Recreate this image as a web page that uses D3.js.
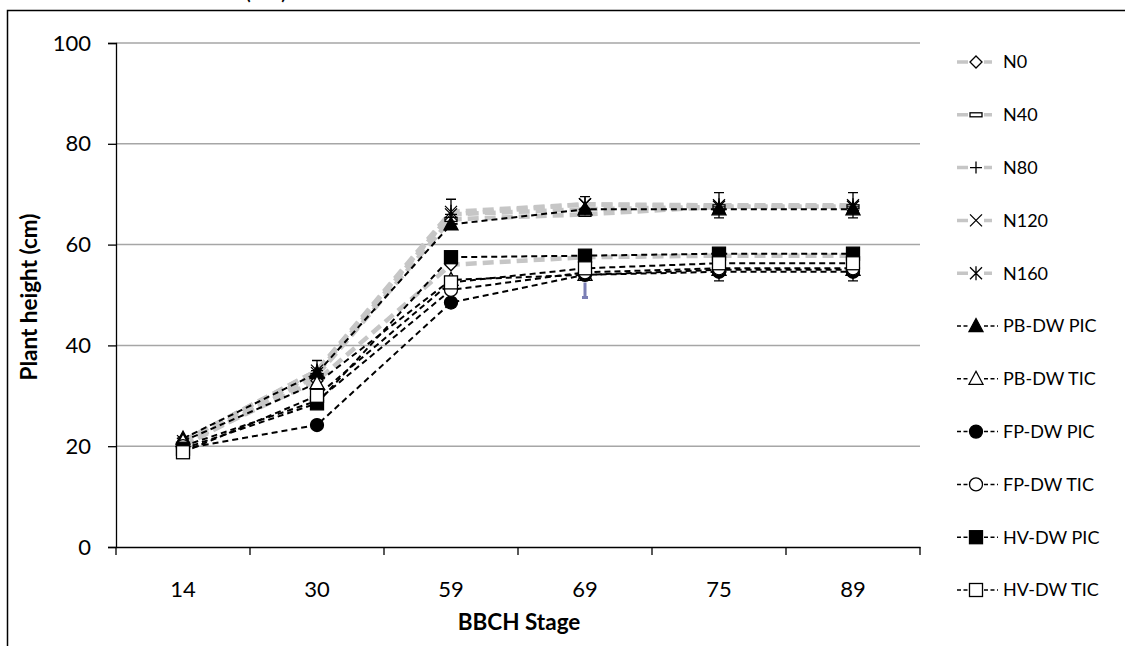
<!DOCTYPE html>
<html>
<head>
<meta charset="utf-8">
<script src="https://cdn.jsdelivr.net/npm/d3@7"></script>
<style>
  body { margin: 0; background: #fff; }
  svg text { font-family: Lato, "Open Sans", sans-serif; fill: #000; }
</style>
</head>
<body>
<div id="chart"></div>
<script>
// BBCH stages on the x axis
var stages = ["14", "30", "59", "69", "75", "89"];
var yTicks = [0, 20, 40, 60, 80, 100];

// plant height (cm) per series
var n0   = [20.5, 33.0, 56.0, 57.5, 57.8, 57.8];
var n40  = [20.0, 34.0, 65.0, 66.0, 67.5, 67.5];
var n80  = [21.0, 35.0, 66.0, 67.0, 67.5, 67.5];
var n120 = [20.5, 34.5, 66.0, 68.0, 67.5, 67.5];
var n160 = [21.0, 35.0, 66.5, 68.0, 67.8, 67.8];
var pbPic = [21.5, 34.5, 64.0, 67.0, 67.0, 67.0];
var pbTic = [21.0, 32.5, 53.0, 54.0, 55.0, 55.0];
var fpPic = [19.5, 24.2, 48.5, 54.0, 54.6, 54.6];
var fpTic = [20.0, 29.0, 51.0, 54.5, 55.3, 55.3];
var hvPic = [19.5, 28.5, 57.5, 57.8, 58.2, 58.2];
var hvTic = [18.8, 30.0, 52.5, 55.3, 56.3, 56.3];

// error bars (+/-)
var n160Err = [0.8, 2.0, 2.5, 1.5, 2.5, 2.5];
var fpTicErr = [0.5, 1.5, 2.0, 1.0, 2.5, 2.5];
var blueBar = ["69", 52.5, 49.5];

var series = [
  {name: "N0", values: n0, marker: "diamond", kind: "n"},
  {name: "N40", values: n40, marker: "bar", kind: "n"},
  {name: "N80", values: n80, marker: "plus", kind: "n"},
  {name: "N120", values: n120, marker: "x", kind: "n"},
  {name: "N160", values: n160, marker: "star", kind: "n"},
  {name: "PB-DW PIC", values: pbPic, marker: "tri", kind: "dw"},
  {name: "PB-DW TIC", values: pbTic, marker: "triOpen", kind: "dw"},
  {name: "FP-DW PIC", values: fpPic, marker: "circle", kind: "dw"},
  {name: "FP-DW TIC", values: fpTic, marker: "circleOpen", kind: "dw"},
  {name: "HV-DW PIC", values: hvPic, marker: "square", kind: "dw"},
  {name: "HV-DW TIC", values: hvTic, marker: "squareOpen", kind: "dw"}
];

var width = 1125, height = 646;

var svg = d3.select("#chart").append("svg")
  .attr("width", width)
  .attr("height", height);

// outer frame (only top and left are in the picture)
svg.append("path")
  .attr("d", "M7.5,646 L7.5,10.5 L1125,10.5")
  .attr("fill", "none")
  .attr("stroke", "#000")
  .attr("stroke-width", 1.5);

// title, mostly cut off by the top edge
svg.append("text")
  .attr("x", 266).attr("y", -1)
  .attr("text-anchor", "middle")
  .style("font-size", "24px")
  .text("(cm)");

var x = d3.scaleBand().domain(stages).range([116, 920]);
var y = d3.scaleLinear().domain([0, 100]).range([547, 43]);
var cx = function(s) { return x(s) + x.bandwidth() / 2; };

// grid
svg.append("g").selectAll("line")
  .data(yTicks.filter(function(d) { return d > 0; }))
  .enter().append("line")
  .attr("x1", 116).attr("x2", 920)
  .attr("y1", function(d) { return y(d); })
  .attr("y2", function(d) { return y(d); })
  .attr("stroke", "#a6a6a6")
  .attr("stroke-width", 1.5);

// y axis
var yAxis = svg.append("g")
  .attr("transform", "translate(116,0)")
  .call(d3.axisLeft(y).tickValues(yTicks).tickSize(8).tickPadding(17));
yAxis.selectAll("text").style("font-size", "22px");
yAxis.select(".domain").attr("stroke-width", 1.3);
yAxis.selectAll(".tick line").attr("stroke-width", 1.3);

// x axis
var xAxis = svg.append("g")
  .attr("transform", "translate(0,547)")
  .call(d3.axisBottom(x).tickSize(0).tickPadding(34));
xAxis.selectAll("text").style("font-size", "22px");
xAxis.select(".domain").attr("stroke-width", 1.3);
xAxis.append("g").selectAll("line")
  .data(d3.range(stages.length + 1))
  .enter().append("line")
  .attr("x1", function(i) { return 116 + i * x.step(); })
  .attr("x2", function(i) { return 116 + i * x.step(); })
  .attr("y1", 0).attr("y2", 8)
  .attr("stroke", "#000").attr("stroke-width", 1.3);

// axis titles
svg.append("text")
  .attr("x", 519).attr("y", 630)
  .attr("text-anchor", "middle")
  .style("font-size", "22.5px").style("font-weight", "bold")
  .text("BBCH Stage");
svg.append("text")
  .attr("transform", "translate(37,297) rotate(-90)")
  .attr("text-anchor", "middle")
  .style("font-size", "22.5px").style("font-weight", "bold")
  .text("Plant height (cm)");

function lineStyle(sel, kind) {
  if (kind === "n") {
    sel.attr("stroke", "#c6c6c6").attr("stroke-width", 4.5).attr("stroke-dasharray", "11,6");
  } else {
    sel.attr("stroke", "#000").attr("stroke-width", 2).attr("stroke-dasharray", "6,4");
  }
}

function marker(g, type, px, py) {
  var m = g.append("g").attr("transform", "translate(" + px + "," + py + ")");
  var s = 6.5;
  if (type === "diamond") {
    m.append("path").attr("d", "M0,-6 L6,0 L0,6 L-6,0Z")
      .attr("fill", "#fff").attr("stroke", "#000").attr("stroke-width", 1.3);
  } else if (type === "bar") {
    m.append("rect").attr("x", -6).attr("y", -2).attr("width", 12).attr("height", 4)
      .attr("fill", "#fff").attr("stroke", "#000").attr("stroke-width", 1.3);
  } else if (type === "plus") {
    m.append("path").attr("d", "M-6,0H6M0,-6V6")
      .attr("stroke", "#000").attr("stroke-width", 1.3);
  } else if (type === "x") {
    m.append("path").attr("d", "M-6,-6L6,6M-6,6L6,-6")
      .attr("stroke", "#000").attr("stroke-width", 1.3);
  } else if (type === "star") {
    m.append("path").attr("d", "M-6,-6L6,6M-6,6L6,-6M0,-7V7")
      .attr("stroke", "#000").attr("stroke-width", 1.3);
  } else if (type === "tri" || type === "triOpen") {
    m.append("path").attr("d", "M0,-7.5 L7,5.5 L-7,5.5Z")
      .attr("fill", type === "tri" ? "#000" : "#fff")
      .attr("stroke", "#000").attr("stroke-width", 1.3);
  } else if (type === "circle" || type === "circleOpen") {
    m.append("circle").attr("r", s)
      .attr("fill", type === "circle" ? "#000" : "#fff")
      .attr("stroke", "#000").attr("stroke-width", 1.3);
  } else {
    m.append("rect").attr("x", -s).attr("y", -s).attr("width", 2 * s).attr("height", 2 * s)
      .attr("fill", type === "square" ? "#000" : "#fff")
      .attr("stroke", "#000").attr("stroke-width", 1.3);
  }
}

var line = d3.line()
  .x(function(d, i) { return cx(stages[i]); })
  .y(function(d) { return y(d); });

var plot = svg.append("g");

// error bars
function errorBars(vals, errs) {
  vals.forEach(function(v, i) {
    var px = cx(stages[i]);
    plot.append("path")
      .attr("d", "M" + px + "," + y(v - errs[i]) + "V" + y(v + errs[i]) +
        "M" + (px - 5) + "," + y(v - errs[i]) + "H" + (px + 5) +
        "M" + (px - 5) + "," + y(v + errs[i]) + "H" + (px + 5))
      .attr("stroke", "#000").attr("stroke-width", 1.3).attr("fill", "none");
  });
}
errorBars(n160, n160Err);
errorBars(fpTic, fpTicErr);

series.forEach(function(s) {
  plot.append("path")
    .attr("d", line(s.values))
    .attr("fill", "none")
    .call(lineStyle, s.kind);
});
series.forEach(function(s) {
  s.values.forEach(function(v, i) { marker(plot, s.marker, cx(stages[i]), y(v)); });
});

// odd blue error bar at stage 69
plot.append("path")
  .attr("d", "M" + cx(blueBar[0]) + "," + y(blueBar[1]) + "V" + y(blueBar[2]) +
    "M" + (cx(blueBar[0]) - 3) + "," + y(blueBar[2]) + "H" + (cx(blueBar[0]) + 3))
  .attr("stroke", "#7b7fb5").attr("stroke-width", 3).attr("fill", "none");

// legend
var legend = svg.append("g");
series.forEach(function(s, i) {
  var ly = 62 + i * 52.8;
  var g = legend.append("g");
  if (s.kind === "n") {
    g.append("path").attr("d", "M957," + ly + "H968M984," + ly + "H992")
      .attr("stroke", "#c6c6c6").attr("stroke-width", 3.5);
  } else {
    g.append("path").attr("d", "M957," + ly + "H968M984," + ly + "H998")
      .attr("stroke", "#000").attr("stroke-width", 1.5).attr("stroke-dasharray", "4,2.5");
  }
  marker(g, s.marker, 976, ly);
  g.append("text")
    .attr("x", 1003).attr("y", ly)
    .attr("dy", "0.35em")
    .style("font-size", "18px")
    .text(s.name);
});
</script>
</body>
</html>
